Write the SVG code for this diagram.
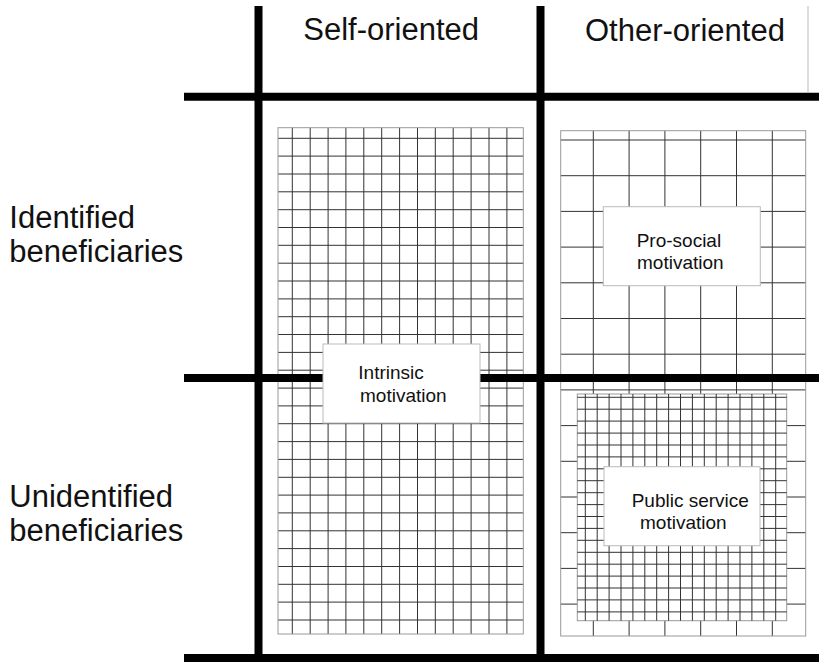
<svg xmlns="http://www.w3.org/2000/svg" width="819" height="662" viewBox="0 0 819 662">
<style>
text{font-family:"Liberation Sans",Arial,sans-serif;fill:#111}
.hdr{font-size:31px}
.lbl{font-size:19px}
.edge{fill:none;stroke:#999;stroke-width:1}
.grid{fill:none;stroke:#333;stroke-width:1}
.thick{stroke:#000;stroke-width:8;fill:none}
.box{fill:#fff;stroke:#bbb;stroke-width:1}
</style>
<rect width="819" height="662" fill="#fff"/>
<g id="grid-self">
<path class="grid" d="M292.3 127.7V634M310.2 127.7V634M328.1 127.7V634M345.9 127.7V634M363.8 127.7V634M381.7 127.7V634M399.6 127.7V634M417.5 127.7V634M435.3 127.7V634M453.2 127.7V634M471.1 127.7V634M489 127.7V634M506.9 127.7V634
M278 138.3H523.3M278 156.1H523.3M278 174H523.3M278 191.8H523.3M278 209.7H523.3M278 227.5H523.3M278 245.3H523.3M278 263.2H523.3M278 281H523.3M278 298.9H523.3M278 316.7H523.3M278 334.5H523.3M278 352.4H523.3M278 370.2H523.3M278 388.1H523.3M278 405.9H523.3M278 423.7H523.3M278 441.6H523.3M278 459.4H523.3M278 477.3H523.3M278 495.1H523.3M278 512.9H523.3M278 530.8H523.3M278 548.6H523.3M278 566.5H523.3M278 584.3H523.3M278 602.1H523.3M278 620H523.3"/>
<rect class="edge" x="278" y="127.7" width="245.3" height="506.3"/>
</g>
<g id="grid-other">
<path class="grid" d="M593.3 130.7V636M629.1 130.7V636M664.9 130.7V636M700.7 130.7V636M736.5 130.7V636M772.3 130.7V636
M560.7 140H805.7M560.7 175.7H805.7M560.7 211.4H805.7M560.7 247.1H805.7M560.7 282.8H805.7M560.7 318.5H805.7M560.7 354.2H805.7M560.7 389.9H805.7M560.7 425.6H805.7M560.7 461.3H805.7M560.7 497H805.7M560.7 532.7H805.7M560.7 568.4H805.7M560.7 604.1H805.7"/>
<rect class="edge" x="560.7" y="130.7" width="245" height="505.3"/>
</g>
<g id="grid-public">
<rect x="577.3" y="394" width="209.4" height="226.7" fill="#fff" stroke="#999" stroke-width="1"/>
<path class="grid" d="M585.3 394V620.7M597.2 394V620.7M609.1 394V620.7M621 394V620.7M632.9 394V620.7M644.8 394V620.7M656.7 394V620.7M668.6 394V620.7M680.5 394V620.7M692.4 394V620.7M704.3 394V620.7M716.2 394V620.7M728.1 394V620.7M740 394V620.7M751.9 394V620.7M763.8 394V620.7M775.7 394V620.7
M577.3 397.3H786.7M577.3 409.2H786.7M577.3 421.1H786.7M577.3 433.1H786.7M577.3 445H786.7M577.3 456.9H786.7M577.3 468.8H786.7M577.3 480.7H786.7M577.3 492.7H786.7M577.3 504.6H786.7M577.3 516.5H786.7M577.3 528.4H786.7M577.3 540.3H786.7M577.3 552.3H786.7M577.3 564.2H786.7M577.3 576.1H786.7M577.3 588H786.7M577.3 599.9H786.7M577.3 611.9H786.7"/>
</g>
<g id="matrix-lines">
<path class="thick" d="M258.5 6V662M540.5 6V662M184 96.7H819M184 378H819M184 658H819"/>
<path d="M808 6V92" stroke="#bbb" stroke-width="1"/>
</g>
<g id="col-self"><text class="hdr" x="303.3" y="39.5">Self-oriented</text></g>
<g id="col-other"><text class="hdr" x="585" y="40.5">Other-oriented</text></g>
<g id="row-identified"><text class="hdr" x="9.3" y="227.7">Identified</text><text class="hdr" x="9.3" y="262">beneficiaries</text></g>
<g id="row-unidentified"><text class="hdr" x="9.3" y="506.7">Unidentified</text><text class="hdr" x="9.3" y="541">beneficiaries</text></g>
<g id="node-intrinsic">
<rect class="box" x="323" y="344" width="157" height="79"/>
<text class="lbl" x="358.3" y="379.3">Intrinsic</text><text class="lbl" x="360" y="401.7">motivation</text>
</g>
<g id="node-prosocial">
<rect class="box" x="603.3" y="206.7" width="157" height="79"/>
<text class="lbl" x="636.7" y="246.7">Pro-social</text><text class="lbl" x="637" y="269">motivation</text>
</g>
<g id="node-public">
<rect class="box" x="604" y="466.7" width="156" height="79"/>
<text class="lbl" x="631.7" y="506.7">Public service</text><text class="lbl" x="640" y="529">motivation</text>
</g>
</svg>
